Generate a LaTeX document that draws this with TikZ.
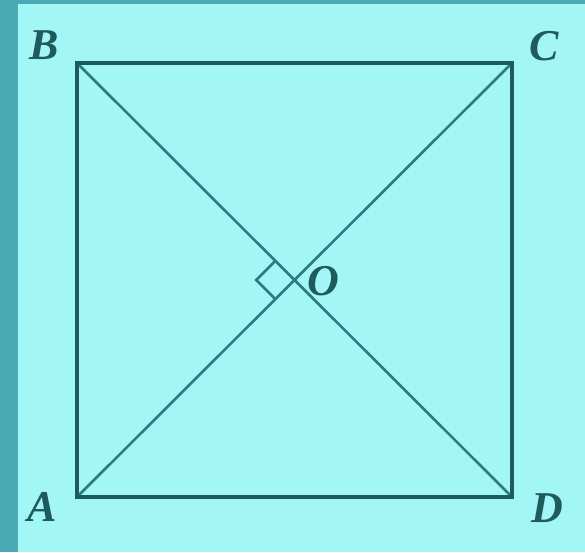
\documentclass[tikz,border=0pt]{standalone}
\usepackage{fontspec}
\setmainfont{Liberation Serif}
\usetikzlibrary{calc}
\definecolor{bgc}{HTML}{A2F6F6}
\definecolor{framec}{HTML}{4AA9B2}
\definecolor{linec}{HTML}{1F5A5C}
\definecolor{diagc}{HTML}{2E7B7E}
\begin{document}
\begin{tikzpicture}[x=1pt,y=-1pt,
  side/.style={draw=linec,line width=4.8pt,line cap=rect},
  diag/.style={draw=diagc,line width=2.6pt},
  lbl/.style={font=\fontsize{44}{44}\selectfont\bfseries\itshape,text=linec,inner sep=0pt}]
\fill[framec] (0,0) rectangle (585,552);
\fill[bgc] (18,4) rectangle (585,552);
\useasboundingbox (0,0) rectangle (585,552);
\coordinate (A) at (77,497);
\coordinate (B) at (77,63);
\coordinate (C) at (512,63);
\coordinate (D) at (512,497);
\coordinate (O) at (294.5,280);
\draw[diag] (A) -- (C);
\draw[diag] (B) -- (D);
\draw[side] (A) -- (B) -- (C) -- (D) -- cycle;
\draw[diag,line join=miter] ($(O)!27pt!(B)$) -- ++(-19.1,19.1) -- ($(O)!27pt!(A)$);
\node[lbl] (lA) at (42,507) {A};
\node[lbl] (lB) at (44,45) {B};
\node[lbl] (lC) at (544,46) {C};
\node[lbl] (lD) at (547,508) {D};
\node[lbl] (lO) at (323,281) {O};
\end{tikzpicture}
\end{document}
